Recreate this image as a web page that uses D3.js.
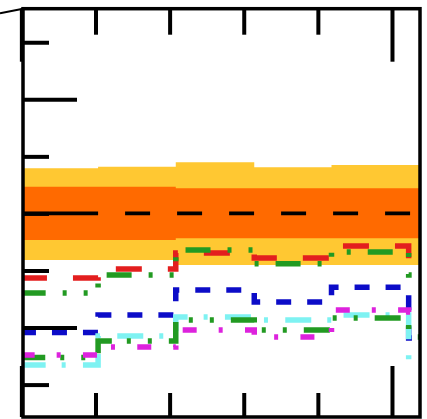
<!DOCTYPE html>
<html>
<head>
<meta charset="utf-8">
<script src="https://cdn.jsdelivr.net/npm/d3@7"></script>
<style>
  html, body { margin: 0; padding: 0; background: #ffffff; }
  svg { display: block; }
</style>
</head>
<body>
<script>
// Bin edges shared by every step curve (x units)
const binEdges = [-0.015, 1.035, 2.083, 3.142, 4.184, 5.225, 5.40];

// Expected limit and its 1σ / 2σ bands, one value per bin
const band2Lo = [0.296, 0.296, 0.274, 0.274, 0.274, 0.274];
const band1Lo = [0.384, 0.384, 0.391, 0.391, 0.391, 0.391];
const expected = [0.500, 0.500, 0.500, 0.500, 0.500, 0.500];
const band1Hi = [0.617, 0.617, 0.610, 0.610, 0.610, 0.610];
const band2Hi = [0.698, 0.705, 0.724, 0.702, 0.712, 0.712];

// Observed curves, one value per bin
const obsRed      = [0.217, 0.257, 0.327, 0.305, 0.357, 0.287];
const obsGreenA   = [0.151, 0.230, 0.340, 0.279, 0.331, 0.230];
const obsBlue     = [-0.022, 0.055, 0.165, 0.112, 0.176, -0.046];
const obsCyan     = [-0.164, -0.037, 0.046, 0.033, 0.055, -0.151];
const obsMagenta  = [-0.120, -0.085, -0.011, -0.041, 0.077, 0.068];
const obsGreenB   = [-0.131, -0.059, 0.033, -0.011, 0.042, -0.041];

// Axis ticks
const xMajorTicks = [0, 5];
const xMinorTicks = [1, 2, 3, 4];
const yMajorTicks = [0, 1];
const yMinorTicks = [-0.25, 0.25, 0.5, 0.75, 1.25];

const W = 427, H = 419;
const frame = { left: 23, right: 420, top: 8.7, bottom: 417 };

const x = d3.scaleLinear().domain([0.022, 5.378]).range([frame.left, frame.right]);
const y = d3.scaleLinear().domain([-0.392, 1.397]).range([frame.bottom, frame.top]);

const svg = d3.select("body").append("svg")
  .attr("width", W).attr("height", H);

svg.append("defs").append("clipPath").attr("id", "plot-clip")
  .append("rect")
  .attr("x", frame.left).attr("y", frame.top)
  .attr("width", frame.right - frame.left)
  .attr("height", frame.bottom - frame.top);

const plot = svg.append("g").attr("clip-path", "url(#plot-clip)");

// step points: each bin value held from its left edge to the next edge
const stepPoints = vals => binEdges.map((e, i) => [e, vals[Math.min(i, vals.length - 1)]]);

const bandArea = (lo, hi) => d3.area()
  .curve(d3.curveStepAfter)
  .x(d => x(d[0]))
  .y0((d, i) => y(lo[Math.min(i, lo.length - 1)]))
  .y1((d, i) => y(hi[Math.min(i, hi.length - 1)]));

const stepLine = d3.line().curve(d3.curveStepAfter)
  .x(d => x(d[0])).y(d => y(d[1]));

// 2σ band, then 1σ band on top
plot.append("path")
  .datum(stepPoints(band2Hi))
  .attr("d", bandArea(band2Lo, band2Hi))
  .attr("fill", "#ffc832");
plot.append("path")
  .datum(stepPoints(band1Hi))
  .attr("d", bandArea(band1Lo, band1Hi))
  .attr("fill", "#ff6a00");

// expected limit: solid over the first bin, dashed afterwards
const expPts = stepPoints(expected);
plot.append("path")
  .datum(expPts.slice(0, 2))
  .attr("d", stepLine)
  .attr("fill", "none").attr("stroke", "#000").attr("stroke-width", 3.8);
plot.append("path")
  .datum(expPts.slice(1))
  .attr("d", stepLine)
  .attr("fill", "none").attr("stroke", "#000").attr("stroke-width", 3.8)
  .attr("stroke-dasharray", "25 27").attr("stroke-dashoffset", 25);

// observed curves, drawn bottom to top
const curves = [
  { vals: obsBlue,    color: "#0c0cc8", dash: "15 16",                  off: -0.7 },
  { vals: obsCyan,    color: "#7ef2f2", dash: "26 16 4 17.3",           off: 0.6 },
  { vals: obsGreenB,  color: "#229a22", dash: "26 15 4 17 4 17",        off: 1 },
  { vals: obsMagenta, color: "#dd22dd", dash: "14 22 4 22.3",           off: -0.4 },
  { vals: obsRed,     color: "#e31e1e", dash: "26 26",                  off: -0.7 },
  { vals: obsGreenA,  color: "#229a22", dash: "25 17 4 17 4 16 4 17",   off: -0.4 }
];

plot.selectAll("path.obs")
  .data(curves)
  .join("path")
  .attr("class", "obs")
  .attr("d", c => stepLine(stepPoints(c.vals)))
  .attr("fill", "none")
  .attr("stroke", c => c.color)
  .attr("stroke-width", 5.5)
  .attr("stroke-linecap", "butt")
  .attr("stroke-dasharray", c => c.dash)
  .attr("stroke-dashoffset", c => c.off);

// inward ticks on bottom, top and left
const tickStyle = g => {
  g.select(".domain").remove();
  g.selectAll(".tick line").attr("stroke", "#000").attr("stroke-width", 4);
  g.selectAll(".tick text").remove();
};

svg.append("g").attr("transform", `translate(0,${frame.bottom})`)
  .call(d3.axisBottom(x).tickValues(xMinorTicks).tickSize(-24).tickFormat(""))
  .call(tickStyle);
svg.append("g").attr("transform", `translate(0,${frame.bottom})`)
  .call(d3.axisBottom(x).tickValues(xMajorTicks).tickSize(-51).tickFormat(""))
  .call(tickStyle);
svg.append("g").attr("transform", `translate(0,${frame.top})`)
  .call(d3.axisTop(x).tickValues(xMinorTicks).tickSize(-26).tickFormat(""))
  .call(tickStyle);
svg.append("g").attr("transform", `translate(0,${frame.top})`)
  .call(d3.axisTop(x).tickValues(xMajorTicks).tickSize(-53).tickFormat(""))
  .call(tickStyle);
svg.append("g").attr("transform", `translate(${frame.left},0)`)
  .call(d3.axisLeft(y).tickValues(yMinorTicks).tickSize(-26).tickFormat(""))
  .call(tickStyle);
svg.append("g").attr("transform", `translate(${frame.left},0)`)
  .call(d3.axisLeft(y).tickValues(yMajorTicks).tickSize(-54).tickFormat(""))
  .call(tickStyle);

// frame
svg.append("rect")
  .attr("x", frame.left).attr("y", frame.top)
  .attr("width", frame.right - frame.left)
  .attr("height", frame.bottom - frame.top)
  .attr("fill", "none").attr("stroke", "#000").attr("stroke-width", 3.5);

// short stroke leaving the top-left corner
svg.append("line")
  .attr("x1", 0).attr("y1", 13.3).attr("x2", frame.left).attr("y2", frame.top)
  .attr("stroke", "#000").attr("stroke-width", 2);
</script>
</body>
</html>
